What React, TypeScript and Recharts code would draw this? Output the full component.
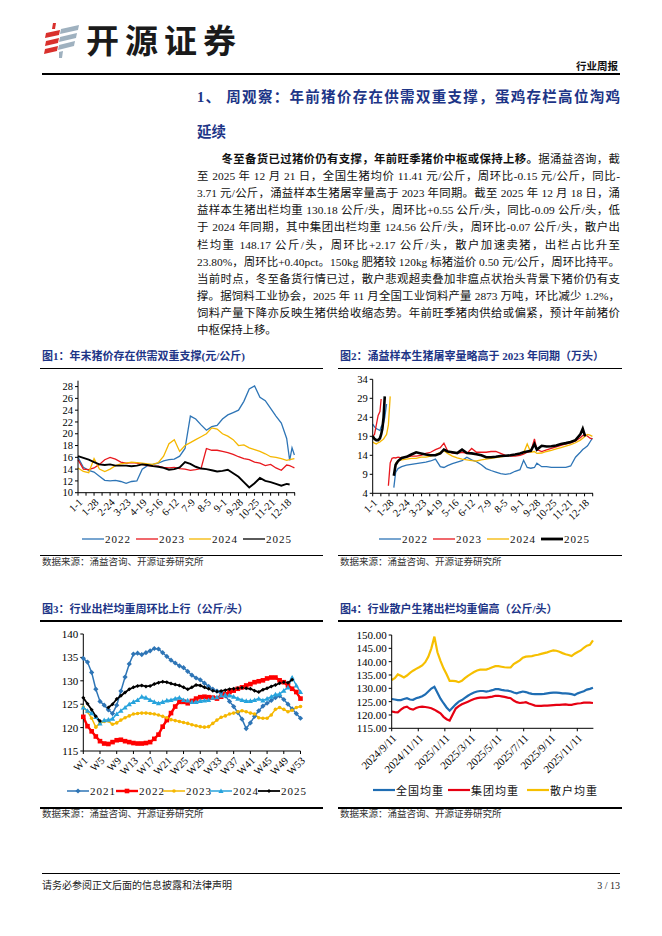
import React from "react";
import { LineChart, Line, XAxis, YAxis } from "recharts";

// ---------- data ----------
// fig1: daily pig price (yuan/kg), sampled by day-of-year
const DAYS1 = [0, 9, 18, 27, 36, 45, 54, 63, 72, 81, 90, 99, 108, 117, 126, 135, 144, 153, 162, 171, 180, 189, 198, 207, 216, 225, 234, 243, 252, 261, 270, 279, 288, 297, 306, 315, 324, 333, 342, 351, 356, 360, 364];
const PRICE_2022 = [16.0, 14.3, 13.8, 13.5, 12.8, 12.1, 12.0, 12.1, 11.9, 11.6, 11.9, 12.0, 14.0, 14.6, 14.8, 15.0, 15.4, 15.6, 15.7, 16.2, 17.5, 23.0, 22.5, 21.5, 20.6, 21.2, 21.4, 22.5, 23.2, 23.6, 24.0, 25.5, 27.6, 28.1, 26.2, 25.6, 24.3, 23.0, 21.8, 19.2, 15.5, 17.6, 16.4];
const PRICE_2023 = [15.6, 14.0, 13.9, 14.2, 14.8, 15.6, 16.0, 15.7, 15.2, 15.0, 15.1, 15.0, 14.8, 14.6, 14.5, 14.5, 14.3, 14.2, 14.3, 14.1, 14.0, 13.8, 13.9, 14.1, 17.5, 17.2, 17.2, 17.0, 16.8, 16.5, 16.1, 15.8, 15.6, 15.2, 15.0, 14.6, 14.8, 14.2, 13.8, 14.7, 14.6, 14.4, 14.2];
const PRICE_2024 = [14.2, 13.6, 13.4, 15.8, 14.0, 13.6, 14.0, 14.6, 14.9, 15.0, 15.2, 15.1, 15.0, 14.9, 14.8, 15.1, 16.2, 18.3, 19.0, 17.0, 18.0, 18.5, 19.0, 19.5, 20.0, 21.0, 20.8, 20.0, 19.6, 19.0, 18.0, 18.1, 17.6, 17.3, 17.0, 16.6, 16.1, 16.0, 15.8, 15.5, 15.6, 15.7, 15.8];
const PRICE_2025 = [16.2, 15.9, 15.6, 15.2, 14.8, 14.7, 14.8, 14.6, 14.6, 14.6, 14.5, 14.6, 14.8, 14.7, 14.5, 14.4, 14.2, 13.9, 14.0, 14.3, 15.2, 14.9, 14.4, 14.1, 14.0, 13.8, 13.6, 13.7, 13.9, 13.3, 12.7, 11.8, 10.9, 11.6, 12.5, 12.0, 11.8, 11.5, 11.2, 11.5, 11.4, null, null];

// fig2: sample slaughter volume (10k head)
const DAYS2 = [0, 3, 6, 9, 12, 14, 16, 18, 20, 23, 26, 29, 32, 35, 38, 42, 48, 56, 64, 72, 80, 88, 96, 104, 112, 118, 124, 132, 140, 148, 156, 164, 172, 180, 188, 196, 204, 212, 220, 228, 236, 244, 250, 256, 262, 268, 272, 280, 288, 296, 304, 312, 320, 328, 336, 344, 348, 352, 356, 360, 364];
const KILL_2022 = [22.2, 21.5, 21.0, 20.8, 20.5, 21.5, 22.0, 22.5, 24.0, 27.5, null, null, null, 5.5, 9.5, 10.5, 11.0, 11.4, 11.6, 11.8, 12.0, 12.2, 12.5, 13.0, 11.0, 10.8, 11.3, 11.8, 12.2, 12.6, 13.5, 12.8, 12.3, 11.5, 10.5, 10.0, 9.6, 9.2, 9.0, 9.2, 9.8, 10.2, 12.7, 10.8, 10.6, 10.8, 11.9, 11.0, 11.0, 10.8, 10.8, 10.8, 10.8, 11.2, 13.5, 14.8, 15.5, 16.0, 16.5, 17.5, 18.5];
const KILL_2023 = [19.0, 19.5, 22.0, 24.5, 25.5, 28.8, null, null, null, null, 6.0, 12.0, 13.2, 13.4, 13.3, 13.5, 13.3, 13.5, 13.8, 13.8, 14.0, 14.5, 14.8, 15.5, 16.0, 17.2, 15.2, 14.6, 14.5, 14.8, 14.5, 15.8, 14.8, 14.8, 14.8, 15.0, 15.0, 14.5, 14.0, 13.8, 13.8, 14.0, 14.3, 14.8, 15.0, 18.3, 15.5, 15.0, 15.4, 15.8, 16.2, 16.6, 17.0, 17.3, 17.8, 18.6, 19.2, 19.5, 19.0, 18.5, 18.3];
const KILL_2024 = [17.5, 17.2, 17.0, 17.3, 17.5, 17.8, 18.0, 18.3, 18.8, 19.5, 22.0, 29.5, null, null, 12.0, 12.5, 12.8, 13.0, 13.2, 13.2, 13.5, 13.5, 13.8, 14.2, 14.8, 15.2, 14.5, 13.8, 13.3, 13.0, 12.8, 12.6, 12.5, 12.8, 13.0, 13.2, 13.4, 13.6, 13.8, 14.0, 14.2, 14.5, 14.6, 17.0, 14.8, 15.0, 14.5, 14.6, 15.0, 15.3, 15.7, 16.0, 16.4, 16.8, 17.3, 18.0, 18.5, 19.0, 19.5, 19.3, 19.0];
const KILL_2025 = [19.0, 18.3, 18.0, 18.0, 18.5, 19.5, 21.0, 24.0, 29.5, null, null, null, null, 8.6, 11.5, 12.5, 13.3, 13.6, 14.2, 14.8, 14.5, 14.2, 14.0, 14.0, 14.5, 15.5, 15.0, 14.8, 14.6, 15.5, 14.6, 14.5, 14.3, 14.0, 13.5, 13.5, 13.6, 13.8, 13.9, 14.0, 14.2, 14.5, 14.8, 15.0, 15.2, 17.0, 15.5, 16.5, 16.3, 16.4, 16.6, 17.0, 17.2, 17.5, 18.0, 19.5, 21.0, 19.0, null, null, null];

const DAY_LABELS = ["1-1", "1-28", "2-24", "3-23", "4-19", "5-16", "6-12", "7-9", "8-5", "9-1", "9-28", "10-25", "11-21", "12-18"];

// fig3: weekly average slaughter weight (kg/head)
const WEEKS = Array.from({ length: 53 }, (_, i) => `W${i + 1}`);
const WT_2021 = [134.8, 134.0, 131.8, 128.2, 125.6, 124.8, 123.8, 123.0, 124.8, 127.8, 130.8, 133.6, 135.7, 135.9, 135.6, 136.0, 136.4, 136.9, 136.8, 136.0, 135.2, 134.4, 133.8, 133.2, 132.8, 132.0, 131.2, 130.6, 130.2, 129.5, 128.8, 128.2, 127.8, 127.4, 126.8, 125.6, 124.5, 123.2, 121.8, 119.8, 121.0, 122.4, 123.6, 124.6, 125.2, 125.8, 126.4, 126.8, 126.0, 125.0, 124.0, 123.0, 122.0];
const WT_2022 = [122.3, 120.3, 119.2, 118.1, 117.1, 116.6, 116.5, 116.9, 117.3, 117.4, 117.1, 116.9, 116.7, 116.6, 116.6, 116.7, 116.9, 117.6, 118.5, 120.2, 121.6, 123.1, 124.5, 125.5, 125.5, 125.2, 125.7, 126.2, 126.5, 126.6, 126.5, 126.4, 126.2, 126.6, 127.1, 127.6, 127.9, 128.3, 128.6, 129.0, 129.3, 129.7, 129.9, 130.1, 130.5, 130.7, 130.7, 130.1, 129.7, 129.0, 128.3, 127.6, 126.2];
const WT_2023 = [124.4, 123.4, 122.0, 120.1, 121.0, 121.3, 121.4, 120.7, 121.0, 121.6, 122.1, 122.5, 122.9, 123.0, 123.1, 123.1, 123.0, 122.9, 122.7, 122.4, 122.1, 121.7, 121.5, 121.3, 121.1, 120.9, 120.6, 120.4, 120.2, 120.1, 120.2, 120.9, 121.6, 122.2, 122.5, 122.9, 123.1, 123.4, 123.6, 123.4, 123.1, 122.9, 122.1, 122.0, 122.0, 122.7, 123.9, 124.3, 123.9, 123.4, 123.7, 124.3, 124.5];
const WT_2024 = [124.3, 123.6, 123.1, 122.3, 120.9, 121.6, 121.7, 121.9, 122.9, 123.6, 124.3, 125.0, 125.5, 125.9, 126.6, 126.4, 125.9, 125.5, 125.2, 125.5, 125.8, 125.9, 126.2, 126.4, 125.9, 125.8, 125.5, 125.5, 125.7, 125.8, 125.9, 126.4, 126.5, 126.9, 127.0, 126.9, 126.6, 126.2, 125.9, 125.7, 125.7, 125.9, 126.2, 125.8, 126.2, 126.6, 127.1, 127.2, 127.9, 128.6, 130.7, 129.0, 127.6];
const WT_2025 = [126.4, 125.1, 123.8, 122.4, 121.4, null, 124.3, 125.0, 126.1, 126.8, 127.5, 128.2, 128.6, 128.9, 129.0, 128.8, 128.9, 129.3, 129.6, 129.8, 129.7, 129.4, 129.2, 129.0, 128.6, 128.2, 128.6, 129.1, 129.0, 128.6, 128.3, 127.9, 127.7, 127.8, 128.0, 128.2, 128.3, 128.4, 128.5, 128.4, 128.3, 127.9, 127.6, 128.1, 128.4, 128.8, 129.1, 129.5, 129.7, 129.6, 130.2, null, null];

// fig4: weekly since 2024/9/11 (day offsets)
const DAYS4 = Array.from({ length: 67 }, (_, i) => i * 7);
const ALL_WT = [126.0, 125.8, 125.6, 125.6, 126.0, 126.3, 125.8, 125.7, 126.3, 126.6, 127.0, 127.7, 128.8, 129.9, 130.6, 128.3, 126.1, 124.4, 122.8, 121.6, 122.8, 124.0, 125.0, 125.6, 126.4, 127.2, 127.9, 128.4, 128.8, 129.0, 129.0, 128.8, 129.0, 129.3, 129.7, 129.7, 129.4, 129.2, 129.1, 128.9, 128.4, 128.1, 128.5, 128.8, 128.6, 128.2, 127.9, 127.8, 127.8, 127.8, 127.9, 128.1, 128.3, 128.4, 128.4, 128.3, 128.1, 128.1, 128.0, 127.8, 127.5, 128.1, 128.5, 128.9, 129.5, 129.8, 130.2];
const GROUP_WT = [121.3, 121.1, 121.0, 122.0, 122.8, 123.1, 122.3, 122.0, 122.6, 123.0, 123.1, 123.0, 122.8, 122.5, 122.0, 121.3, 120.6, 119.3, 118.4, 117.9, 120.2, 122.4, 123.3, 124.0, 124.5, 125.0, 125.5, 126.0, 126.3, 126.5, 126.5, 126.5, 126.7, 126.9, 127.2, 127.2, 127.0, 126.8, 126.5, 126.3, 125.4, 124.8, 124.5, 124.6, 124.8, 124.3, 123.9, 123.5, 123.4, 123.4, 123.5, 123.5, 123.6, 123.7, 123.8, 123.8, 123.9, 124.0, 123.8, 123.8, 124.1, 124.3, 124.4, 124.6, 124.6, 124.6, 124.5];
const SMALL_WT = [133.1, 133.8, 135.2, 134.7, 134.1, 134.8, 135.8, 136.6, 137.3, 137.9, 138.6, 139.8, 141.8, 145.0, 149.4, 143.5, 140.3, 137.5, 135.3, 132.8, 132.8, 132.7, 132.3, 132.8, 133.8, 134.7, 135.4, 136.1, 136.7, 137.0, 137.0, 137.0, 137.4, 137.9, 138.3, 138.3, 138.1, 137.9, 137.8, 137.8, 139.1, 139.8, 140.5, 141.5, 141.9, 142.0, 142.1, 142.4, 142.6, 142.9, 143.2, 143.5, 143.9, 144.2, 144.1, 143.7, 143.2, 142.8, 142.5, 142.1, 143.0, 143.6, 144.2, 145.2, 146.0, 146.3, 148.0];
const DATE_TICKS = [0, 61, 122, 181, 242, 303, 365, 426];
const DATE_LABELS = ["2024/9/11", "2024/11/11", "2025/1/11", "2025/3/11", "2025/5/11", "2025/7/11", "2025/9/11", "2025/11/11"];

const data1 = DAYS1.map((d, i) => ({ d, a: PRICE_2022[i], b: PRICE_2023[i], c: PRICE_2024[i], e: PRICE_2025[i] }));
const data2 = DAYS2.map((d, i) => ({ d, a: KILL_2022[i], b: KILL_2023[i], c: KILL_2024[i], e: KILL_2025[i] }));
const data3 = WEEKS.map((w, i) => ({ w, a: WT_2021[i], b: WT_2022[i], c: WT_2023[i], d: WT_2024[i], e: WT_2025[i] }));
const data4 = DAYS4.map((d, i) => ({ d, all: ALL_WT[i], grp: GROUP_WT[i], sml: SMALL_WT[i] }));

const DAY_TICKS = DAY_LABELS.flatMap((_, i) => [i * 27, i * 27 + 13.5]);

// ---------- styles ----------
const NAVY = "#1d3587";
const BLUE = "#2e75b6";
const RED = "#e8171d";
const GOLD = "#f5b700";
const SKY = "#27a3dc";
const SERIF = '"Liberation Serif", "Noto Sans CJK SC", serif';
const CJK = '"Liberation Serif", "Noto Sans CJK SC", sans-serif';
const tickFont = { fontSize: 10.5, fill: "#000", fontFamily: SERIF };
const axisStroke = { stroke: "#000", strokeWidth: 1 };

function Txt({ x, y, size, children, bold, color, width, align, family, spacing }: any) {
  return (
    <div
      style={{
        position: "absolute",
        left: x,
        top: y - size * 0.6,
        width,
        height: size * 1.2,
        lineHeight: `${size * 1.2}px`,
        fontSize: size,
        fontWeight: bold ? 700 : 400,
        color: color || "#111",
        fontFamily: family || CJK,
        whiteSpace: "nowrap",
        letterSpacing: spacing || 0,
        textAlign: align || "left",
        textAlignLast: align || "left",
      }}
    >
      {children}
    </div>
  );
}

function HLine({ x1, x2, y, w = 1.2 }: any) {
  return <div style={{ position: "absolute", left: x1, top: y - w / 2, width: x2 - x1, height: w, background: "#000" }} />;
}

function LegendItem({ x, y, color, label, w = 1.3, len = 22, marker }: any) {
  return (
    <div style={{ position: "absolute", left: x, top: y - 8, height: 16, display: "flex", alignItems: "center" }}>
      <svg width={len} height={12}>
        <line x1={0} y1={6} x2={len} y2={6} stroke={color} strokeWidth={w} />
        {marker ? marker(len / 2, 6) : null}
      </svg>
      <span style={{ fontSize: 11, fontFamily: CJK, color: "#111", marginLeft: 1, letterSpacing: 1 }}>{label}</span>
    </div>
  );
}

// markers for fig3
const diamond = (r: number, color: string) => (cx: number, cy: number, key?: any) => (
  <path key={key} d={`M${cx},${cy - r}L${cx + r},${cy}L${cx},${cy + r}L${cx - r},${cy}Z`} fill={color} />
);
const square = (r: number, color: string) => (cx: number, cy: number, key?: any) => (
  <rect key={key} x={cx - r} y={cy - r} width={2 * r} height={2 * r} fill={color} />
);
const circle = (r: number, color: string) => (cx: number, cy: number, key?: any) => (
  <circle key={key} cx={cx} cy={cy} r={r} fill={color} />
);
const triangle = (r: number, color: string) => (cx: number, cy: number, key?: any) => (
  <path key={key} d={`M${cx},${cy - r}L${cx + r},${cy + r * 0.8}L${cx - r},${cy + r * 0.8}Z`} fill={color} />
);
const dotOf = (m: any) => (p: any) => {
  if (p.cx == null || p.cy == null || p.value == null || (Array.isArray(p.value) && p.value[1] == null)) return <g key={p.index} />;
  return m(p.cx, p.cy, p.index);
};

const M21 = diamond(2.6, BLUE);
const M22 = square(2.3, "#ff0000");
const M23 = circle(1.8, GOLD);
const M24 = triangle(2.6, SKY);
const M25 = diamond(2.0, "#000");

function Chart1() {
  return (
    <div style={{ position: "absolute", left: 40, top: 370 }}>
      <LineChart width={270} height={165} data={data1} margin={{ top: 10.7, right: 15, bottom: 7.3, left: 0 }}>
        <XAxis dataKey="d" type="number" domain={[0, 365]} ticks={DAY_TICKS} interval={0} height={35}
          tickFormatter={(v: number) => (v % 27 === 0 ? DAY_LABELS[v / 27] : "")}
          angle={-45} textAnchor="end" tick={tickFont} tickSize={3} axisLine={axisStroke} tickLine={axisStroke} />
        <YAxis type="number" domain={[10, 29]} ticks={[10, 12, 14, 16, 18, 20, 22, 24, 26, 28]} interval={0} width={38}
          tick={tickFont} tickSize={3} axisLine={axisStroke} tickLine={axisStroke} />
        <Line dataKey="a" stroke={BLUE} strokeWidth={1.3} dot={false} isAnimationActive={false} />
        <Line dataKey="b" stroke={RED} strokeWidth={1.3} dot={false} isAnimationActive={false} />
        <Line dataKey="c" stroke={GOLD} strokeWidth={1.3} dot={false} isAnimationActive={false} />
        <Line dataKey="e" stroke="#000" strokeWidth={1.9} dot={false} isAnimationActive={false} />
      </LineChart>
    </div>
  );
}

function Chart2() {
  return (
    <div style={{ position: "absolute", left: 338, top: 370 }}>
      <LineChart width={270} height={165} data={data2} margin={{ top: 9.3, right: 15, bottom: 6.7, left: 0 }}>
        <XAxis dataKey="d" type="number" domain={[0, 365]} ticks={DAY_TICKS} interval={0} height={35}
          tickFormatter={(v: number) => (v % 27 === 0 ? DAY_LABELS[v / 27] : "")}
          angle={-45} textAnchor="end" tick={tickFont} tickSize={3} axisLine={axisStroke} tickLine={axisStroke} />
        <YAxis type="number" domain={[4, 34]} ticks={[4, 9, 14, 19, 24, 29, 34]} interval={0} width={34.7}
          tick={tickFont} tickSize={3} axisLine={axisStroke} tickLine={axisStroke} />
        <Line dataKey="a" stroke={BLUE} strokeWidth={1.3} dot={false} isAnimationActive={false} />
        <Line dataKey="b" stroke={RED} strokeWidth={1.3} dot={false} isAnimationActive={false} />
        <Line dataKey="c" stroke={GOLD} strokeWidth={1.3} dot={false} isAnimationActive={false} />
        <Line dataKey="e" stroke="#000" strokeWidth={2.6} dot={false} isAnimationActive={false} />
      </LineChart>
    </div>
  );
}

function Chart3() {
  return (
    <div style={{ position: "absolute", left: 40, top: 625 }}>
      <LineChart width={270} height={165} data={data3} margin={{ top: 9, right: 9.5, bottom: 4, left: 0 }}>
        <XAxis dataKey="w" interval={3} height={35} angle={-45} textAnchor="end" tick={tickFont} tickSize={3}
          axisLine={axisStroke} tickLine={axisStroke} />
        <YAxis type="number" domain={[115, 140]} ticks={[115, 120, 125, 130, 135, 140]} interval={0} width={43.3}
          tick={{ ...tickFont, fontSize: 11 }} tickSize={3} axisLine={axisStroke} tickLine={axisStroke} />
        <Line dataKey="a" stroke={BLUE} strokeWidth={1.5} dot={dotOf(M21)} isAnimationActive={false} />
        <Line dataKey="b" stroke="#ff0000" strokeWidth={2.4} dot={dotOf(M22)} isAnimationActive={false} />
        <Line dataKey="c" stroke={GOLD} strokeWidth={1.5} dot={dotOf(M23)} isAnimationActive={false} />
        <Line dataKey="d" stroke={SKY} strokeWidth={1.5} dot={dotOf(M24)} isAnimationActive={false} />
        <Line dataKey="e" stroke="#000" strokeWidth={1.8} dot={dotOf(M25)} isAnimationActive={false} />
      </LineChart>
    </div>
  );
}

function Chart4() {
  return (
    <div style={{ position: "absolute", left: 338, top: 625 }}>
      <LineChart width={270} height={165} data={data4} margin={{ top: 10, right: 14.6, bottom: 11.7, left: 0 }}>
        <XAxis dataKey="d" type="number" domain={[0, 463]} ticks={DATE_TICKS} interval={0} height={50}
          tickFormatter={(v: number) => DATE_LABELS[DATE_TICKS.indexOf(v)]}
          angle={-45} textAnchor="end" tick={{ ...tickFont, fontSize: 11 }} tickSize={3} axisLine={axisStroke} tickLine={axisStroke} />
        <YAxis type="number" domain={[115, 150]} ticks={[115, 120, 125, 130, 135, 140, 145, 150]} interval={0} width={53.7}
          tickFormatter={(v: number) => v.toFixed(2)}
          tick={{ ...tickFont, fontSize: 11 }} tickSize={3} axisLine={axisStroke} tickLine={axisStroke} />
        <Line dataKey="all" stroke="#1f6db3" strokeWidth={2.2} dot={false} isAnimationActive={false} />
        <Line dataKey="grp" stroke="#e60012" strokeWidth={2.2} dot={false} isAnimationActive={false} />
        <Line dataKey="sml" stroke="#f6bf00" strokeWidth={2.2} dot={false} isAnimationActive={false} />
      </LineChart>
    </div>
  );
}

function Logo() {
  return (
    <svg style={{ position: "absolute", left: 43, top: 21 }} width={38} height={38} viewBox="0 0 38 38">
      <path d="M10,2 L13,2 L12,8 L9,8 Z" fill="#d9302c" />
      <path d="M3,12 L17,9 L16,14 L2,17 Z" fill="#d9302c" />
      <path d="M3,20 L16,17 L15,22 L2,25 Z" fill="#d9302c" />
      <path d="M2,28 L15,25 L14,30 L1,33 Z" fill="#d9302c" />
      <path d="M18,8 L36,4 L35,9 L17,13 Z" fill="#9fb1bf" />
      <path d="M17,16 L34,12 L33,17 L16,21 Z" fill="#9fb1bf" />
      <path d="M16,24 L32,20 L31,25 L15,29 Z" fill="#9fb1bf" />
      <path d="M16,31 L20,30 L19,37 L16,37 Z" fill="#9fb1bf" />
    </svg>
  );
}

const PARA = [
  "至 2025 年 12 月 21 日，全国生猪均价 11.41 元/公斤，周环比-0.15 元/公斤，同比-",
  "3.71 元/公斤，涌益样本生猪屠宰量高于 2023 年同期。截至 2025 年 12 月 18 日，涌",
  "益样本生猪出栏均重 130.18 公斤/头，周环比+0.55 公斤/头，同比-0.09 公斤/头，低",
  "于 2024 年同期，其中集团出栏均重 124.56 公斤/头，周环比-0.07 公斤/头，散户出",
  "栏均重 148.17 公斤/头，周环比+2.17 公斤/头，散户加速卖猪，出栏占比升至",
  "23.80%，周环比+0.40pct。150kg 肥猪较 120kg 标猪溢价 0.50 元/公斤，周环比持平。",
  "当前时点，冬至备货行情已过，散户悲观超卖叠加非瘟点状抬头背景下猪价仍有支",
  "撑。据饲料工业协会，2025 年 11 月全国工业饲料产量 2873 万吨，环比减少 1.2%，",
  "饲料产量下降亦反映生猪供给收缩态势。年前旺季猪肉供给或偏紧，预计年前猪价",
  "中枢保持上移。",
];

const SRC = "数据来源：涌益咨询、开源证券研究所";

export default function App() {
  const pSize = 11.4;
  return (
    <div style={{ position: "absolute", left: 0, top: 0, width: 662, height: 936, background: "#fff", overflow: "hidden" }}>
      <Logo />
      <Txt x={86} y={40} size={33} bold color="#1a1a1a" spacing={6} family='"Noto Sans CJK SC", sans-serif'>开源证券</Txt>
      <Txt x={560} y={67} size={10.5} bold width={58} align="right">行业周报</Txt>
      <HLine x1={42} x2={620} y={74} w={1.5} />

      <Txt x={197} y={98} size={14.5} bold color={NAVY} width={423} align="justify">1、 周观察：年前猪价存在供需双重支撑，蛋鸡存栏高位淘鸡</Txt>
      <Txt x={197} y={133} size={14.5} bold color={NAVY}>延续</Txt>

      <Txt x={221.5} y={160} size={pSize} width={398.5} align="justify">
        <b>冬至备货已过猪价仍有支撑，年前旺季猪价中枢或保持上移。</b>据涌益咨询，截
      </Txt>
      {PARA.map((t, i) => (
        <Txt key={i} x={197} y={160 + 17.07 * (i + 1)} size={pSize} width={423} align={i === PARA.length - 1 ? "left" : "justify"}>
          {t}
        </Txt>
      ))}

      <Txt x={42} y={357} size={11} bold color={NAVY}>图1：年末猪价存在供需双重支撑(元/公斤)</Txt>
      <Txt x={340} y={357} size={11} bold color={NAVY}>图2：涌益样本生猪屠宰量略高于 2023 年同期（万头）</Txt>
      <HLine x1={40} x2={323} y={368.5} />
      <HLine x1={338} x2={622} y={368.5} />
      <Chart1 />
      <Chart2 />
      <LegendItem x={82} y={539} color={BLUE} label="2022" />
      <LegendItem x={136} y={539} color={RED} label="2023" />
      <LegendItem x={189} y={539} color={GOLD} label="2024" />
      <LegendItem x={243} y={539} color="#000" label="2025" />
      <LegendItem x={379} y={539} color={BLUE} label="2022" />
      <LegendItem x={433} y={539} color={RED} label="2023" />
      <LegendItem x={487} y={539} color={GOLD} label="2024" />
      <LegendItem x={541} y={539} color="#000" label="2025" w={2.8} />
      <HLine x1={40} x2={323} y={555.5} />
      <HLine x1={338} x2={622} y={555.5} />
      <Txt x={42} y={563} size={9.5} color="#333">{SRC}</Txt>
      <Txt x={340} y={563} size={9.5} color="#333">{SRC}</Txt>

      <Txt x={42} y={610} size={11} bold color={NAVY}>图3：行业出栏均重周环比上行（公斤/头）</Txt>
      <Txt x={340} y={610} size={11} bold color={NAVY}>图4：行业散户生猪出栏均重偏高（公斤/头）</Txt>
      <HLine x1={40} x2={323} y={621} />
      <HLine x1={338} x2={622} y={621} />
      <Chart3 />
      <Chart4 />
      <LegendItem x={67} y={791} color={BLUE} label="2021" w={1.5} marker={M21} />
      <LegendItem x={116} y={791} color="#ff0000" label="2022" w={2.4} marker={M22} />
      <LegendItem x={163} y={791} color={GOLD} label="2023" w={1.5} marker={M23} />
      <LegendItem x={210} y={791} color={SKY} label="2024" w={1.5} marker={M24} />
      <LegendItem x={258} y={791} color="#000" label="2025" w={1.8} marker={M25} />
      <LegendItem x={373} y={790} color="#1f6db3" label="全国均重" w={2.2} />
      <LegendItem x={448} y={790} color="#e60012" label="集团均重" w={2.2} />
      <LegendItem x={527} y={790} color="#f6bf00" label="散户均重" w={2.2} />
      <HLine x1={40} x2={323} y={808} />
      <HLine x1={338} x2={622} y={808} />
      <Txt x={42} y={815} size={9.5} color="#333">{SRC}</Txt>
      <Txt x={340} y={815} size={9.5} color="#333">{SRC}</Txt>

      <HLine x1={42} x2={620} y={873.5} w={1.5} />
      <Txt x={42} y={886} size={10} color="#222">请务必参阅正文后面的信息披露和法律声明</Txt>
      <Txt x={560} y={886} size={10} width={60} align="right" color="#222">3 / 13</Txt>
    </div>
  );
}
